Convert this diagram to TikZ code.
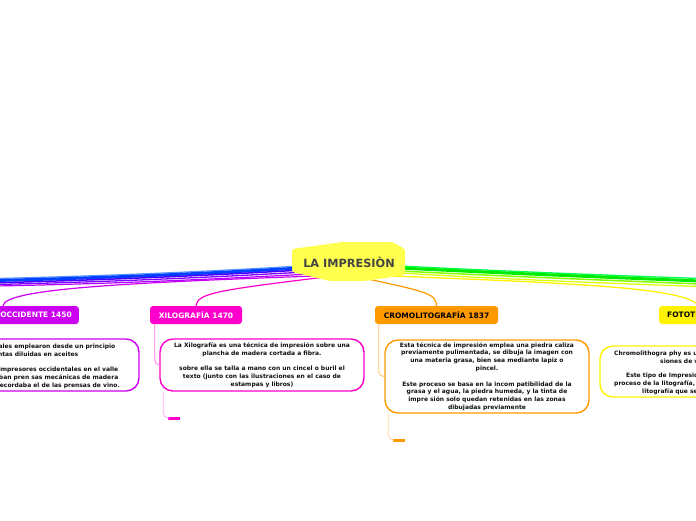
\documentclass[tikz,border=0pt]{standalone}
\usepackage{fontspec}
\setmainfont{DejaVu Sans}
\definecolor{cenC}{RGB}{255,255,77}
\definecolor{occC}{RGB}{204,0,240}
\definecolor{xilC}{RGB}{255,0,204}
\definecolor{croC}{RGB}{255,153,0}
\definecolor{fotC}{RGB}{255,242,0}
\definecolor{ink}{RGB}{17,17,17}
\definecolor{cenT}{RGB}{68,68,68}
\tikzset{
  title/.style={rounded corners=3pt, inner xsep=0pt, inner ysep=0pt, minimum height=18pt,
    font=\fontsize{7.5}{8}\selectfont\bfseries},
  textbox/.style={draw, line width=1.4pt, rounded corners=13pt, fill=white, inner sep=0pt,
    align=center, text=ink, font=\fontsize{6}{7.8}\selectfont\bfseries},
  txt/.style={inner sep=0pt, text=ink, font=\fontsize{6}{7.8}\selectfont\bfseries},
  branch/.style={line cap=round},
  sub/.style={line width=0.8pt, rounded corners=5pt},
  endbar/.style={inner sep=0pt, minimum width=12pt, minimum height=3pt, anchor=west}
}
\begin{document}
\begin{tikzpicture}[x=1pt,y=-1pt]
\useasboundingbox (0,0) rectangle (696,520);

% anchor points under the central node and free ends at the picture edges
\coordinate (cA) at (300,266);
\coordinate (cB) at (300,268);
\coordinate (cC) at (302,270);
\coordinate (cD) at (305,272);
\coordinate (cE) at (310,274);
\coordinate (cO) at (315,276);
\coordinate (cX) at (325,277);
\coordinate (cK) at (368,279);
\coordinate (dA) at (400,266);
\coordinate (dB) at (400,268);
\coordinate (dC) at (400,271);
\coordinate (dD) at (400,273);
\coordinate (dF) at (392,276);
\coordinate (lA) at (-5,278.5);
\coordinate (lB) at (-5,280.5);
\coordinate (lC) at (-5,282.8);
\coordinate (lD) at (-5,284.5);
\coordinate (lE) at (-5,286);
\coordinate (rA) at (700,278.5);
\coordinate (rB) at (700,281);
\coordinate (rC) at (700,284);
\coordinate (rD) at (700,286.5);

% branch title nodes
\node[title, fill=occC, text=white, anchor=east, inner xsep=7pt] (occ) at (79,315) {OCCIDENTE 1450};
\node[title, fill=xilC, text=white, minimum width=92pt] (xil) at (196,315) {XILOGRAFÍA 1470};
\node[title, fill=croC, text=black, minimum width=123pt] (cro) at (436.5,315) {CROMOLITOGRAFÍA 1837};
\node[title, fill=fotC, text=black, anchor=west, inner xsep=8pt, text width=60pt, align=left] (fot) at (659,315) {FOTOTI};

% bundles to the left
\draw[branch, line width=1.2pt, color={rgb,255:red,90;green,150;blue,255}] (cA) .. controls (200,272) and (100,276) .. (lA);
\draw[branch, line width=3pt, color={rgb,255:red,0;green,64;blue,255}] (cB) .. controls (200,274) and (100,278) .. (lB);
\draw[branch, line width=1.5pt, color={rgb,255:red,70;green,0;blue,255}] (cC) .. controls (200,276) and (100,280) .. (lC);
\draw[branch, line width=1.3pt, color={rgb,255:red,128;green,0;blue,255}] (cD) .. controls (200,278) and (100,282) .. (lD);
\draw[branch, line width=1.2pt, color={rgb,255:red,175;green,0;blue,255}] (cE) .. controls (200,280) and (100,284) .. (lE);
\draw[branch, line width=1.2pt, occC] (cO) .. controls (120,283) and (5,289) .. (occ.north -| 3,0);
\draw[branch, line width=1.2pt, xilC] (cX) .. controls (220,290) and (197,293) .. (xil.north);
% bundles to the right
\draw[branch, line width=1.3pt, color={rgb,255:red,0;green,255;blue,80}] (dA) .. controls (500,271) and (600,275) .. (rA);
\draw[branch, line width=3pt, color={rgb,255:red,0;green,235;blue,0}] (dB) .. controls (500,273) and (600,277) .. (rB);
\draw[branch, line width=1.5pt, color={rgb,255:red,130;green,255;blue,0}] (dC) .. controls (500,276) and (600,280) .. (rC);
\draw[branch, line width=1.2pt, color={rgb,255:red,215;green,255;blue,0}] (dD) .. controls (500,279) and (600,283) .. (rD);
\draw[branch, line width=1.3pt, fotC] (dF) .. controls (600,284) and (685,289) .. (fot.north -| 699,0);
\draw[branch, line width=1.2pt, croC] (cK) .. controls (428,292) and (436,294) .. (cro.north);

% central node
\fill[cenC, rounded corners=2.5pt] (292,249) -- (343,242) -- (392,242) -- (405,249) -- (405,275) -- (365,281) -- (330,281) -- (292,272) -- cycle;
\node[inner sep=0pt, text=cenT, font=\fontsize{11.3}{12}\selectfont\bfseries] (center) at (349,262) {LA IMPRESIÒN};

% text boxes
\node[textbox, draw=occC, minimum width=260pt, minimum height=52pt] (occT) at (9,365) {};
\node[textbox, draw=xilC, minimum width=204pt, minimum height=52pt] (xilT) at (262,365)
  {La Xilografía es una técnica de impresión sobre una\\plancha de madera cortada a fibra.\\[7.8pt]sobre ella se talla a mano con un cincel o buril el\\texto (junto con las ilustraciones en el caso de\\estampas y libros)};
\node[textbox, draw=croC, minimum width=204pt, minimum height=73pt] (croT) at (487,376.5)
  {Esta técnica de impresión emplea una piedra caliza\\previamente pulimentada, se dibuja la imagen con\\una materia grasa, bien sea mediante lapiz o\\pincel.\\[7.8pt]Este proceso se basa en la incom patibilidad de la\\grasa y el agua, la piedra humeda, y la tinta de\\impre sión solo quedan retenidas en las zonas\\dibujadas previamente};
\node[textbox, draw=fotC, minimum width=200pt, minimum height=51pt] (fotT) at (700,371.5) {};

% cut-off text of the two edge boxes
\node[txt, anchor=base east] (o1) at (115.5,348) {ales emplearon desde un principio};
\node[txt, anchor=base east] (o2) at (78.5,356) {ntas diluidas en aceites};
\node[txt, anchor=base east] (o3) at (118.5,371) {impresores occidentales en el valle};
\node[txt, anchor=base east] (o4) at (118.5,379) {aban pren sas mecánicas de madera};
\node[txt, anchor=base east] (o5) at (120,387) {recordaba el de las prensas de vino.};
\node[txt, anchor=base west] (f1) at (614,355) {Chromolithogra phy es u};
\node[txt, anchor=base west] (f2) at (660,363) {siones de v};
\node[txt, anchor=base west] (f3) at (626,377) {Este tipo de Impresió};
\node[txt, anchor=base west] (f4) at (614,385) {proceso de la litografía,};
\node[txt, anchor=base west] (f5) at (642,393) {litografía que se};

% sub-connectors from titles to their boxes
\draw[sub, color={rgb,255:red,255;green,110;blue,225}] ([xshift=5pt]xil.south west) |- (xilT.west);
\draw[sub, color={rgb,255:red,255;green,195;blue,110}] ([xshift=4pt]cro.south west) |- (croT.west);

% empty child stubs under the boxes
\node[endbar, fill=xilC] (xilE) at (168,418) {};
\node[endbar, fill=croC] (croE) at (393,440) {};
\draw[sub, color={rgb,255:red,255;green,170;blue,240}] ([xshift=4pt]xilT.south west) |- (xilE.west);
\draw[sub, color={rgb,255:red,255;green,215;blue,160}] ([xshift=4pt]croT.south west) |- (croE.west);
\end{tikzpicture}
\end{document}
